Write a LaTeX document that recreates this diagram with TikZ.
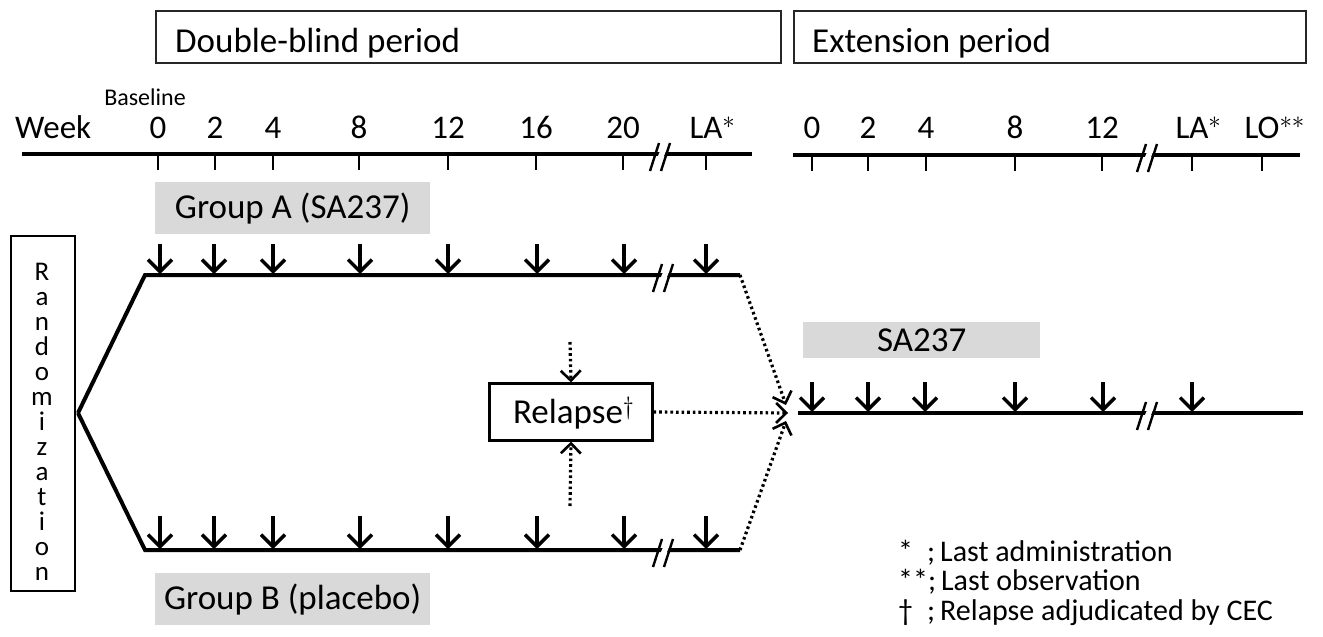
\documentclass[tikz,border=0pt]{standalone}
\usepackage{fontspec}
\setmainfont{Carlito}
\usetikzlibrary{arrows.meta}
\newcommand\mainsz{\fontsize{35}{40}\selectfont}
\newcommand\numsz{\fontsize{33}{38}\selectfont}
\newcommand\smallsz{\fontsize{24}{28}\selectfont}
\newcommand\randsz{\fontsize{27}{25}\selectfont}
\newcommand\legsz{\fontsize{30}{32}\selectfont}
\newcommand\brkmark[2]{%
  \fill[white] (#1-7,#2+12) -- (#1+3,#2-12) -- (#1+9,#2-12) -- (#1-1,#2+12) -- cycle;
  \draw[line width=2.4pt] (#1-10,#2+15) -- (#1-1,#2-13);
  \draw[line width=2.4pt] (#1+1,#2+15) -- (#1+10,#2-13);}
\begin{document}
\begin{tikzpicture}[x=1pt,y=-1pt,
  period/.style={draw=black!85, line width=1.6pt, minimum height=52pt, inner sep=0pt},
  grp/.style={fill=black!15, minimum height=52pt, inner sep=0pt, font=\mainsz},
  lbl/.style={font=\numsz, inner sep=0pt, anchor=base},
  axis/.style={line width=4pt},
  tick/.style={line width=2.6pt},
  arm/.style={line width=4pt},
  dose/.style={line width=3.4pt, -{Straight Barb[length=12pt,width=24pt,line width=3.4pt]}},
  dots/.style={line width=3.2pt, dash pattern=on 2.6pt off 3pt},
  dotarrow/.style={dots, -{Straight Barb[length=10pt,width=20pt,line width=2.6pt]}},
]
\useasboundingbox (0,0) rectangle (1323,637);
% period boxes
\node[period, minimum width=625pt, anchor=north west] (db) at (155,10) {};
\node[font=\mainsz, anchor=west, inner sep=0pt] (dbt) at (175,43) {Double-blind period};
\node[period, minimum width=512pt, anchor=north west] (ext) at (793,10) {};
\node[font=\mainsz, anchor=west, inner sep=0pt] (extt) at (812,43) {Extension period};
% top axes
\node[font=\smallsz, inner sep=0pt] (base) at (145,97) {Baseline};
\node[lbl, anchor=base west] (week) at (15,138) {Week};
\coordinate (ax1s) at (22,154);
\coordinate (ax1e) at (752,154);
\draw[axis] (ax1s) -- (ax1e);
\foreach \x/\t in {158/0,215/2,273/4,359/8,448/12,536/16,623/20} {
  \draw[tick] (\x,154) -- (\x,170);
  \node[lbl] at (\x,138) {\t};
}
\draw[tick] (706,154) -- (706,170);
\node[lbl] (la1) at (706,138) {LA\rlap{$^*$}};
\brkmark{660}{156}
\coordinate (ax2s) at (793,155);
\coordinate (ax2e) at (1300,155);
\draw[axis] (ax2s) -- (ax2e);
\foreach \x/\t in {812/0,868/2,926/4,1015/8,1102/12} {
  \draw[tick] (\x,155) -- (\x,171);
  \node[lbl] at (\x,138) {\t};
}
\draw[tick] (1192,155) -- (1192,171);
\node[lbl] (la2) at (1192,138) {LA\rlap{$^*$}};
\draw[tick] (1262,155) -- (1262,171);
\node[lbl] (lo) at (1262,138) {LO\rlap{$^{**}$}};
\brkmark{1147}{157}
% groups
\node[grp, minimum width=275pt, anchor=north west] (ga) at (155,182) {Group A (SA237)};
\node[grp, minimum width=275pt, anchor=north west] (gb) at (155,573) {Group B (placebo)};
% randomization
\node[draw, line width=2.2pt, minimum width=64pt, minimum height=355pt, anchor=north west, inner sep=0pt] (rand) at (10,235) {};
\node[font=\randsz, align=center, inner sep=0pt, anchor=north] (randt) at (42,263) {%
  R\\a\\n\\d\\o\\m\\i\\z\\a\\t\\i\\o\\n};
\coordinate (apex) at (78,413);
\coordinate (as) at (145,275);
\coordinate (ae) at (740,275);
\coordinate (bs) at (145,550);
\coordinate (be) at (740,550);
\draw[arm, line join=miter] (apex) -- (as) -- (ae);
\draw[arm, line join=miter] (apex) -- (bs) -- (be);
\brkmark{663}{277}
\brkmark{663}{552}
\foreach \x in {160,214,273,360,448,537,624,706} {
  \draw[dose] (\x,244) -- (\x,274);
  \draw[dose] (\x,516) -- (\x,549);
}
% relapse
\node[draw, line width=2.2pt, minimum width=163pt, minimum height=57pt, inner sep=0pt] (rel) at (571,412) {};
\node[font=\mainsz, inner sep=0pt] (relt) at (568,413) {Relapse\rlap{$^\dagger$}};
\coordinate (ra) at (570,342);
\coordinate (rb) at (570,506);
\draw[dotarrow] (ra) -- (rel.north);
\draw[dotarrow] (rb) -- (rel.south);
\coordinate (conv) at (788,413);
\draw[dotarrow] (rel.east) -- (conv);
\draw[dotarrow] (ae) -- (786,405);
\draw[dotarrow] (be) -- (786,421);
% extension
\node[grp, minimum width=237pt, minimum height=36pt, anchor=north west] (sa) at (803,322) {SA237};
\coordinate (cs) at (798,413);
\coordinate (ce) at (1303,413);
\draw[axis] (cs) -- (ce);
\brkmark{1147}{415}
\foreach \x in {812,868,925,1015,1103,1192} {
  \draw[dose] (\x,382) -- (\x,412);
}
% legend
\node[font=\legsz, anchor=base west, inner sep=0pt] (l1) at (898,561) {*\hspace{14pt};\,Last administration};
\node[font=\legsz, anchor=base west, inner sep=0pt] (l2) at (898,590) {**;\,Last observation};
\node[font=\legsz, anchor=base west, inner sep=0pt] (l3) at (898,620) {\textdagger\hspace{14pt};\,Relapse adjudicated by CEC};
\end{tikzpicture}
\end{document}
